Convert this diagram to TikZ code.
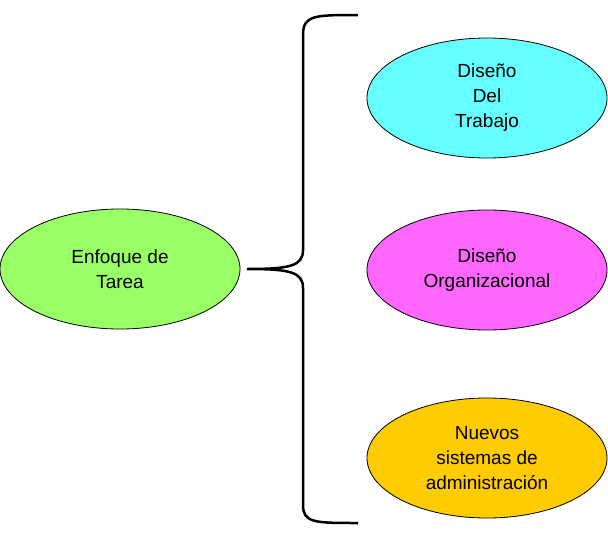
\documentclass[tikz,border=0pt]{standalone}
\usepackage{fontspec}
\setmainfont{Liberation Sans}
\usetikzlibrary{shapes.geometric}
\definecolor{c1}{HTML}{66FFFF}
\definecolor{c2}{HTML}{FF66FF}
\definecolor{c3}{HTML}{FFCC00}
\definecolor{c4}{HTML}{99FF66}
\begin{document}
\begin{tikzpicture}[x=1pt,y=-1pt,
  el/.style={ellipse,draw=black,line width=0.8pt,minimum width=240pt,minimum height=120pt,inner sep=0pt,align=center,font=\fontsize{19}{25}\selectfont}]
\useasboundingbox (0,0) rectangle (608,546);
\node[el,fill=c4] (a) at (120,269) {Enfoque de\\Tarea};
\node[el,fill=c1] (b) at (487,98) {Diseño\\Del\\Trabajo};
\node[el,fill=c2] (c) at (487,270) {Diseño\\Organizacional};
\node[el,fill=c3] (d) at (487,458) {Nuevos\\sistemas de\\administración};
\coordinate (t) at (358,15);
\coordinate (m) at (247,269);
\coordinate (e) at (358,523);
\draw[line width=2.5pt] (t) .. controls (315,15) and (303,15) .. (303,35) -- (303,250)
  .. controls (303,266) and (290,269) .. (m)
  .. controls (290,269) and (303,272) .. (303,288) -- (303,505)
  .. controls (303,523) and (315,523) .. (e);
\end{tikzpicture}
\end{document}
